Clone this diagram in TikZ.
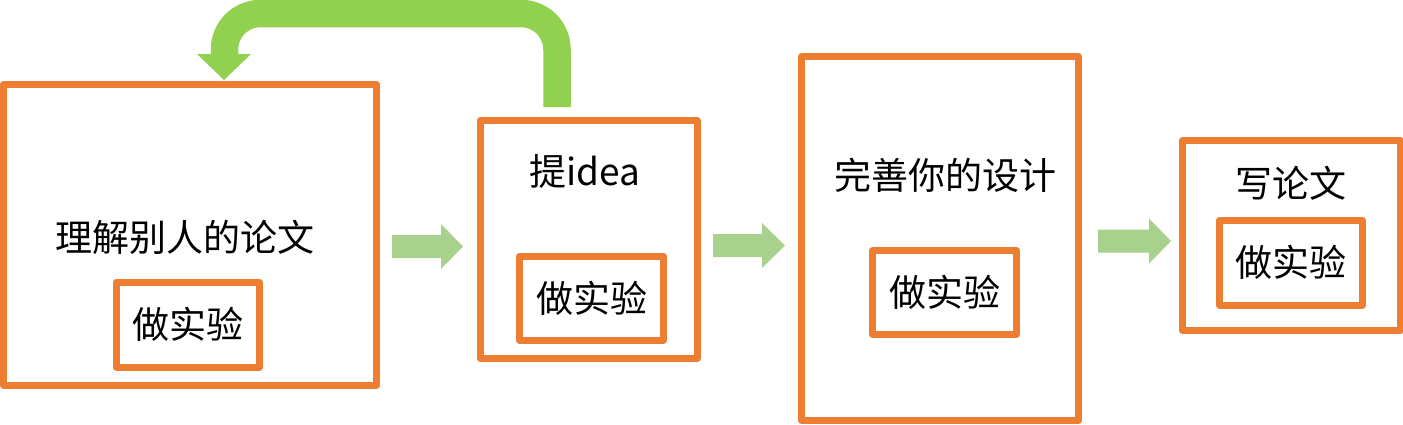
\documentclass[tikz,border=0pt]{standalone}
\usepackage{fontspec}
\setmainfont{Noto Sans CJK SC}
\definecolor{orng}{HTML}{ED7D31}
\definecolor{lgreen}{HTML}{A9D18E}
\definecolor{bgreen}{HTML}{92D050}
\newcommand\myblockarrow[4]{% start x, head base x, tip x, centre y
  \fill[lgreen] (#1,{#4-11.5}) -- (#2,{#4-11.5}) -- (#2,{#4-22.5}) -- (#3,#4)
    -- (#2,{#4+22.5}) -- (#2,{#4+11.5}) -- (#1,{#4+11.5}) -- cycle;}
\begin{document}
\begin{tikzpicture}[x=1pt,y=-1pt,
  box/.style={draw=orng,line width=7pt,line join=round,inner sep=0pt,outer sep=0pt},
  lbl/.style={font=\fontsize{37}{44}\selectfont,inner sep=0pt}]
\useasboundingbox (0,0) rectangle (1403,424);
% outer boxes
\node[box,minimum width=373pt,minimum height=300.5pt] (b1) at (190,234.75) {};
\node[box,minimum width=217pt,minimum height=238pt] (b2) at (588.5,239.5) {};
\node[box,minimum width=277pt,minimum height=364pt] (b3) at (940,238.5) {};
\node[box,minimum width=217.5pt,minimum height=190pt] (b4) at (1291.25,235.5) {};
% inner boxes
\node[box,lbl,minimum width=143.5pt,minimum height=84.5pt] (e1) at (187.75,324.75) {做实验};
\node[box,lbl,minimum width=144pt,minimum height=84pt] (e2) at (591.5,298) {做实验};
\node[box,lbl,minimum width=144pt,minimum height=84pt] (e3) at (944.5,292.5) {做实验};
\node[box,lbl,minimum width=143pt,minimum height=84.5pt] (e4) at (1291,262.75) {做实验};
% titles
\node[lbl] (t1) at (185,237) {理解别人的论文};
\node[lbl,anchor=base] (t2) at (585,185) {提idea};
\node[lbl] (t3) at (945,175) {完善你的设计};
\node[lbl] (t4) at (1291,183) {写论文};
% block arrows
\myblockarrow{392}{441}{463}{246.5}
\myblockarrow{713}{762}{785}{245.5}
\myblockarrow{1098}{1149}{1171}{241}
% feedback arrow
\coordinate (fs) at (557,107);
\coordinate (fe) at (224.5,54.5);
\draw[bgreen,line width=27.5pt,rounded corners=36pt] (fs) |- (224.5,13.5) -- (fe);
\fill[bgreen] (197,54) -- (251,54) -- (224,80) -- cycle;
\end{tikzpicture}
\end{document}
